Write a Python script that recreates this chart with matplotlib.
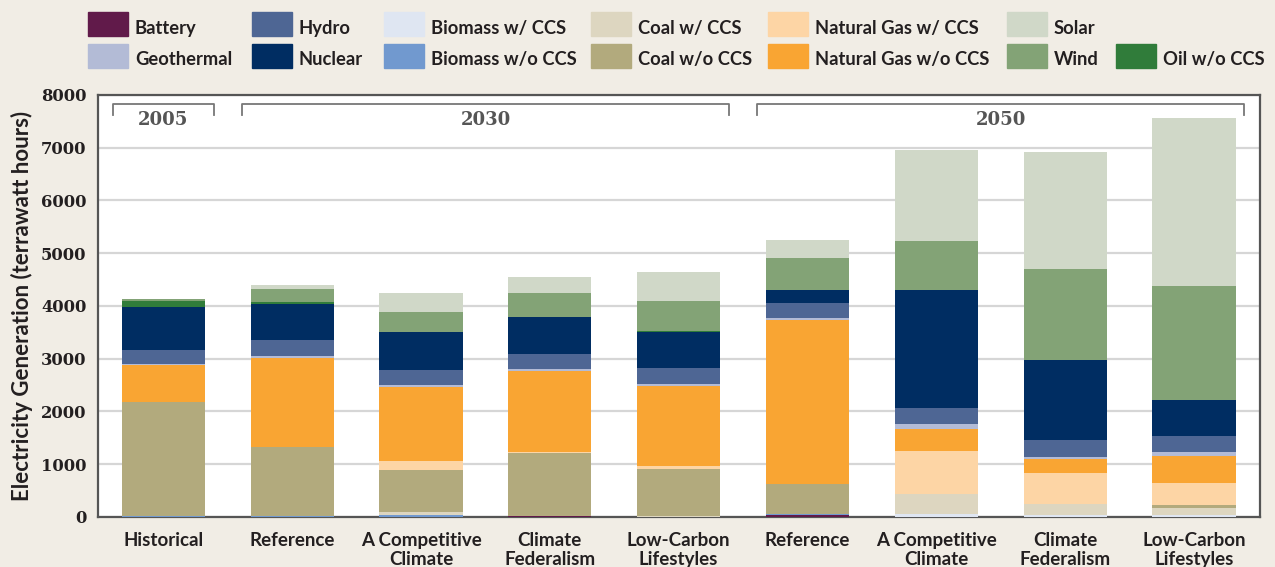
import numpy as np
import matplotlib
matplotlib.use("Agg")
import matplotlib.pyplot as plt
from matplotlib.patches import Rectangle

# Scenario bars (2005 historical, then 2030 and 2050 scenarios)
labels = ['Historical', 'Reference', 'A Competitive\nClimate', 'Climate\nFederalism',
          'Low-Carbon\nLifestyles', 'Reference', 'A Competitive\nClimate',
          'Climate\nFederalism', 'Low-Carbon\nLifestyles']

# generation by source, terawatt hours, stacked bottom to top
battery      = [0,    0,    0,    25,   0,    30,   0,    0,    0]
biomass_ccs  = [0,    0,    0,    0,    0,    0,    57,   38,   38]
biomass      = [25,   25,   32,   0,    0,    27,   0,    0,    0]
coal_ccs     = [0,    0,    51,   0,    25,   0,    381,  210,  133]
coal         = [2146, 1296, 812,  1181, 889,  572,  0,    0,    58]
gas_ccs      = [0,    0,    172,  19,   57,   0,    819,  590,  419]
gas          = [705,  1682, 1390, 1537, 1505, 3101, 416,  267,  514]
geothermal   = [19,   45,   38,   38,   38,   38,   95,   38,   76]
hydro        = [267,  304,  286,  286,  305,  286,  305,  305,  286]
nuclear      = [819,  686,  724,  704,  686,  248,  2229, 1520, 682]
oil          = [121,  30,   0,    0,    19,   0,    0,    0,    0]
wind         = [31,   256,  381,  458,  571,  609,  933,  1734, 2172]
solar        = [0,    76,   362,  304,  553,  343,  1714, 2209, 3192]

series = [
    ('Battery', battery, '#611a4a'),
    ('Biomass w/ CCS', biomass_ccs, '#dfe6f2'),
    ('Biomass w/o CCS', biomass, '#7199cf'),
    ('Coal w/ CCS', coal_ccs, '#ddd6c0'),
    ('Coal w/o CCS', coal, '#b2aa7d'),
    ('Natural Gas w/ CCS', gas_ccs, '#fdd5a5'),
    ('Natural Gas w/o CCS', gas, '#f9a533'),
    ('Geothermal', geothermal, '#b3bbd6'),
    ('Hydro', hydro, '#4e6694'),
    ('Nuclear', nuclear, '#002d62'),
    ('Oil w/o CCS', oil, '#307c3a'),
    ('Wind', wind, '#83a376'),
    ('Solar', solar, '#d0d8c8'),
]
colors = {name: c for name, _, c in series}

# year groups: (label, first bar, last bar)
groups = [('2005', 0, 0), ('2030', 1, 4), ('2050', 5, 8)]

bg = '#f1ede5'
sans = 'Lato'
serif = 'DejaVu Serif'

fig = plt.figure(figsize=(12.75, 5.67), dpi=100, facecolor=bg)
ax = fig.add_axes([0.0766, 0.0885, 0.9114, 0.744])
ax.set_facecolor('white')

x = np.arange(len(labels))
bottom = np.zeros(len(labels))
for name, vals, c in series:
    vals = np.array(vals, dtype=float)
    ax.bar(x, vals, bottom=bottom, width=0.645, color=c, zorder=3)
    bottom += vals

ax.set_xlim(-0.51, 8.51)
ax.set_ylim(0, 8000)
ax.set_yticks(range(0, 8001, 1000))
ax.set_yticklabels([str(v) for v in range(0, 8001, 1000)],
                   fontfamily=serif, fontweight='bold', fontsize=11.8, color='#231f20')
ax.set_xticks(x)
ax.set_xticklabels(labels, fontfamily=sans, fontweight='bold', fontsize=13.5,
                   color='#231f20', linespacing=1.12, va='top')
ax.tick_params(axis='both', length=0)
ax.tick_params(axis='x', pad=11)
ax.tick_params(axis='y', pad=8)
ax.yaxis.grid(True, color='#d6d6d6', linewidth=1.6, zorder=0)
ax.set_axisbelow(True)
for s in ax.spines.values():
    s.set_color('#555555')
    s.set_linewidth(1.6)

ax.set_ylabel('Electricity Generation (terrawatt hours)', fontfamily=sans,
              fontweight='bold', fontsize=16, color='#231f20', labelpad=6)

# year brackets
for yr, a, b in groups:
    x0, x1 = a - 0.39, b + 0.39
    ax.plot([x0, x0, x1, x1], [7620, 7820, 7820, 7620], color='#777777',
            lw=1.3, zorder=4, clip_on=False)
    ax.text((a + b) / 2, 7530, yr, ha='center', va='center', fontfamily=serif,
            fontweight='bold', fontsize=13, color='#555555', zorder=5)

# legend, two rows laid out like the original
legend_rows = [
    [('Battery', 88), ('Hydro', 252), ('Biomass w/ CCS', 384), ('Coal w/ CCS', 591),
     ('Natural Gas w/ CCS', 768), ('Solar', 1007)],
    [('Geothermal', 88), ('Nuclear', 252), ('Biomass w/o CCS', 384), ('Coal w/o CCS', 591),
     ('Natural Gas w/o CCS', 768), ('Wind', 1007), ('Oil w/o CCS', 1116)],
]
W, H = 1275, 567
for row, yc, base in zip(legend_rows, [24, 56], [34, 65]):
    for name, px in row:
        fig.patches.append(Rectangle((px / W, (H - yc - 12) / H), 40 / W, 24 / H,
                                     transform=fig.transFigure, color=colors[name]))
        fig.text((px + 47) / W, (H - base) / H, name, ha='left', va='baseline',
                 fontfamily=sans, fontweight='bold', fontsize=13.2, color='#231f20')

fig.savefig('out.png', dpi=100, facecolor=bg)
